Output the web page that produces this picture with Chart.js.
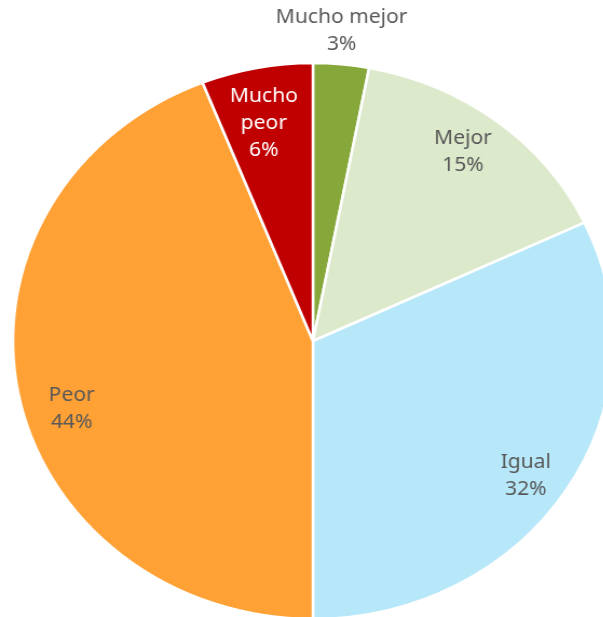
<!DOCTYPE html>
<html lang="es">
<head>
  <meta charset="UTF-8">
  <title>Comparación</title>
  <script src="https://cdn.jsdelivr.net/npm/chart.js"></script>
  <style>
    html, body { margin: 0; padding: 0; background: #fff; overflow: hidden; }
    .wrap {
      position: absolute; left: 0; top: 0;
      width: 620px; height: 682px;
      transform: scaleX(1.0791);
      transform-origin: 0 0;
    }
  </style>
</head>
<body>
  <div class="wrap">
    <canvas id="pieChart" width="620" height="682"></canvas>
  </div>

  <script>
    const categories = ["Mucho mejor", "Mejor", "Igual", "Peor", "Mucho peor"];
    const shares = [3, 15, 32, 44, 6];
    const sliceColors = ["#86A83B", "#DCE9CB", "#B7E8F9", "#FFA135", "#C00000"];
    // text lines shown on each slice
    const labelLines = [
      ["Mucho mejor", "3%"],
      ["Mejor", "15%"],
      ["Igual", "32%"],
      ["Peor", "44%"],
      ["Mucho", "peor", "6%"]
    ];
    const labelColors = ["#595959", "#595959", "#595959", "#595959", "#FFFFFF"];

    // how far out (fraction of radius) and how much to turn (degrees) each label sits
    const labelRadius = [1.12, 0.845, 0.86, 0.84, 0.80];
    const labelTurn = [-0.5, -1.5, 2, -6, -1];

    const sliceLabels = {
      id: "sliceLabels",
      afterDatasetsDraw(chart) {
        const ctx = chart.ctx;
        const arcs = chart.getDatasetMeta(0).data;
        ctx.save();
        ctx.font = '19.5px "Noto Sans", sans-serif';
        ctx.textAlign = "center";
        ctx.textBaseline = "middle";
        arcs.forEach((arc, i) => {
          const p = arc.getProps(["x", "y", "startAngle", "endAngle", "outerRadius"], true);
          const mid = (p.startAngle + p.endAngle) / 2 + labelTurn[i] * Math.PI / 180;
          const r = p.outerRadius * labelRadius[i];
          const cx = p.x + Math.cos(mid) * r;
          const cy = p.y + Math.sin(mid) * r;
          const lines = labelLines[i];
          const lh = 27;
          ctx.fillStyle = labelColors[i];
          lines.forEach((t, k) => {
            ctx.fillText(t, cx, cy + (k - (lines.length - 1) / 2) * lh);
          });
        });
        ctx.restore();
      }
    };

    new Chart(document.getElementById("pieChart"), {
      type: "pie",
      data: {
        labels: categories,
        datasets: [{
          data: shares,
          backgroundColor: sliceColors,
          borderColor: "#FFFFFF",
          borderWidth: 2.5
        }]
      },
      options: {
        responsive: false,
        animation: false,
        radius: 278,
        layout: { padding: { left: 0, right: 40, top: 0, bottom: 0 } },
        plugins: {
          legend: { display: false },
          tooltip: { enabled: false }
        }
      },
      plugins: [sliceLabels]
    });
  </script>
</body>
</html>
